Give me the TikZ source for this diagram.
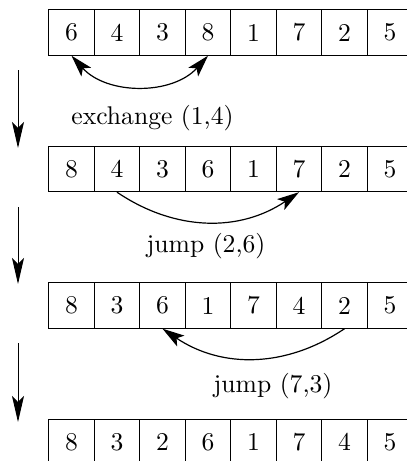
\documentclass[tikz,border=0pt]{standalone}
\usepackage{graphicx}
\usetikzlibrary{arrows.meta}
\newcommand{\bigtxt}[1]{\scalebox{2.56}{\fontsize{10}{12}\selectfont #1}}
\begin{document}
\begin{tikzpicture}[x=1pt,y=-1pt,
  cell/.style={draw, line width=0.9pt, minimum width=45.5pt, minimum height=45.5pt,
    inner sep=0pt, anchor=north west},
  lbl/.style={inner sep=0pt},
  flow/.style={line width=1pt, -{Stealth[length=26pt,width=12pt,inset=6pt]}},
  swap/.style={line width=1.2pt, {Stealth[length=22pt,width=13pt,inset=5pt]}-{Stealth[length=22pt,width=13pt,inset=5pt]}},
  hop/.style={line width=1.2pt, -{Stealth[length=22pt,width=13pt,inset=5pt]}}]
\useasboundingbox (0,0) rectangle (407,461);
\clip (0,0) rectangle (407,461);
\foreach \row/\yy/\vals in {1/9.3/{6,4,3,8,1,7,2,5},2/145.8/{8,4,3,6,1,7,2,5},3/282.3/{8,3,6,1,7,4,2,5},4/418.8/{8,3,2,6,1,7,4,5}}{
  \foreach \v [count=\i] in \vals {
    \node[cell] (r\row c\i) at ({48.3+(\i-1)*45.5},\yy) {\bigtxt{\v}};
  }
}
\draw[swap] (r1c1.south) to[bend right=48] (r1c4.south);
\draw[hop] (r2c2.south) to[bend right=34] (r2c6.south);
\draw[hop] (r3c7.south) to[bend left=34] (r3c3.south);
\node[lbl] (l1) at (152.5,118.5) {\bigtxt{exchange (1,4)}};
\node[lbl] (l2) at (206,246.5) {\bigtxt{jump (2,6)}};
\node[lbl] (l3) at (273,386.5) {\bigtxt{jump (7,3)}};
\coordinate (a1) at (18,70);
\coordinate (b1) at (18,148);
\coordinate (a2) at (18,207);
\coordinate (b2) at (18,284);
\coordinate (a3) at (18,343);
\coordinate (b3) at (18,422);
\draw[flow] (a1) -- (b1);
\draw[flow] (a2) -- (b2);
\draw[flow] (a3) -- (b3);
\end{tikzpicture}
\end{document}
